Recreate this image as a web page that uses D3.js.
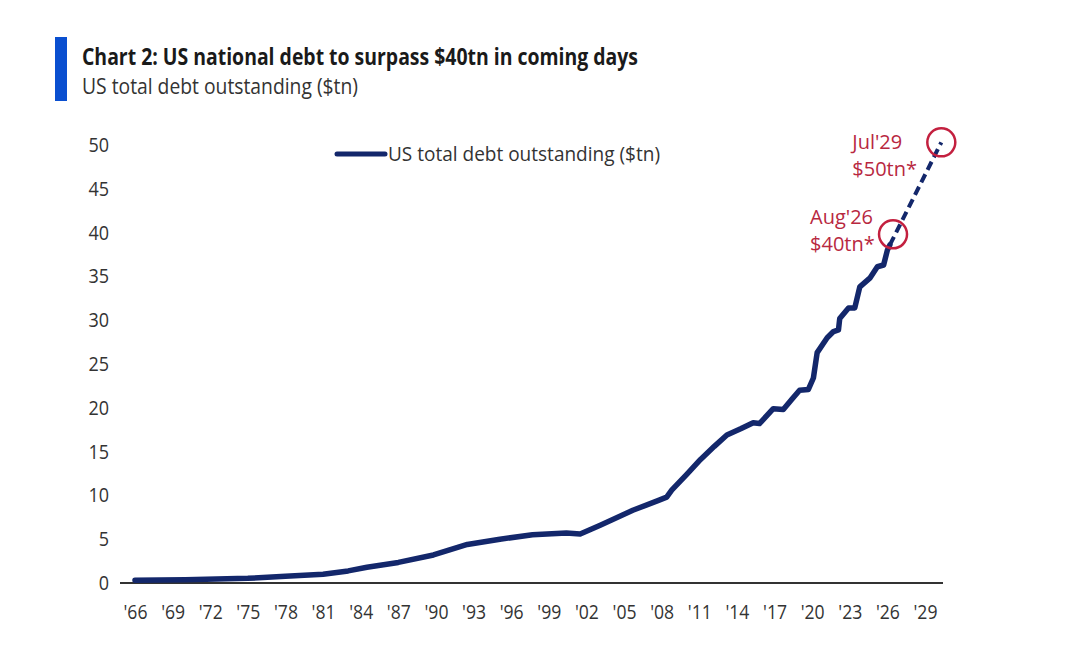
<!DOCTYPE html>
<html>
<head>
<meta charset="utf-8">
<script src="https://cdn.jsdelivr.net/npm/d3@7"></script>
<style>
  body { margin: 0; background: #fff; }
  text { font-family: "Open Sans", sans-serif; }
</style>
</head>
<body>
<div id="chart"></div>
<script>
const width = 1077;
const height = 651;
const margin = {top: 145, right: 134, bottom: 68, left: 135};

// debt outstanding, $tn (decimal years)
const years = [1966, 1970, 1975, 1978, 1981, 1983, 1984.5, 1987, 1989.8, 1992.5, 1995.1, 1997.7,
  2000.4, 2001.5, 2003.1, 2005.7, 2007.7, 2008.4, 2008.8, 2010.0, 2011.1, 2012.2, 2013.2,
  2014.3, 2015.3, 2015.8, 2016.9, 2017.7, 2018.4, 2019.0, 2019.7, 2020.1, 2020.4, 2021.2,
  2021.7, 2022.1, 2022.2, 2022.9, 2023.4, 2023.8, 2024.6, 2025.2, 2025.7, 2026.0, 2026.2];
const debt = [0.32, 0.37, 0.53, 0.77, 1.0, 1.38, 1.8, 2.35, 3.2, 4.4, 5.0, 5.5,
  5.7, 5.6, 6.6, 8.3, 9.4, 9.8, 10.6, 12.4, 14.1, 15.6, 16.9,
  17.6, 18.3, 18.2, 19.9, 19.8, 21.0, 22.0, 22.1, 23.4, 26.3, 28.0,
  28.7, 28.9, 30.2, 31.4, 31.4, 33.8, 34.8, 36.1, 36.3, 38.0, 38.6];

// dashed projection
const projYears = [2026.2, 2030.3];
const projDebt = [38.6, 50.3];

// annotations
const noteYears = [2026.45, 2030.3];
const noteDebt = [39.8, 50.3];
const noteLines = [["Aug'26", "$40tn*"], ["Jul'29", "$50tn*"]];

const yTicks = [0, 5, 10, 15, 20, 25, 30, 35, 40, 45, 50];
const xTickYears = d3.range(1966, 2030, 3);
const xTickLabels = xTickYears.map(y => "'" + String(y % 100).padStart(2, "0"));

const series = years.map((y, i) => ({year: y, value: debt[i]}));
const proj = projYears.map((y, i) => ({year: y, value: projDebt[i]}));
const notes = noteYears.map((y, i) => ({year: y, value: noteDebt[i], lines: noteLines[i]}));

const x = d3.scaleLinear()
  .domain([1966, 2029])
  .range([margin.left, width - margin.right - 18]);

const y = d3.scaleLinear()
  .domain([0, 50])
  .range([height - margin.bottom, margin.top]);

const svg = d3.select("#chart").append("svg")
  .attr("width", width)
  .attr("height", height);

// header
svg.append("rect")
  .attr("x", 55).attr("y", 37)
  .attr("width", 12).attr("height", 64)
  .attr("fill", "#0a4fd0");

svg.append("text")
  .attr("x", 82).attr("y", 65)
  .attr("font-size", 23)
  .attr("font-weight", "bold")
  .attr("fill", "#1a1a1a")
  .attr("textLength", 556)
  .attr("lengthAdjust", "spacingAndGlyphs")
  .text("Chart 2: US national debt to surpass $40tn in coming days");

svg.append("text")
  .attr("x", 82).attr("y", 94)
  .attr("font-size", 21)
  .attr("fill", "#333")
  .attr("textLength", 276)
  .attr("lengthAdjust", "spacingAndGlyphs")
  .text("US total debt outstanding ($tn)");

// y axis labels
const yAxis = g => g
  .attr("transform", `translate(${margin.left - 26},0)`)
  .call(d3.axisLeft(y).tickValues(yTicks).tickSize(0).tickPadding(0))
  .call(g => g.select(".domain").remove())
  .call(g => g.selectAll("text")
    .attr("font-size", 20)
    .attr("fill", "#333")
    .attr("transform", "scale(0.9,1)")
    .style("font-family", null));

svg.append("g").call(yAxis);

// x axis
const xAxis = g => g
  .attr("transform", `translate(0,${height - margin.bottom})`)
  .call(d3.axisBottom(x).tickValues(xTickYears).tickFormat((d, i) => xTickLabels[i])
    .tickSize(0).tickPadding(22))
  .call(g => g.select(".domain").remove())
  .call(g => g.selectAll("text")
    .attr("font-size", 20)
    .attr("fill", "#333")
    .attr("transform", "scale(0.88,1)")
    .style("font-family", null));

svg.append("g").call(xAxis);

svg.append("line")
  .attr("x1", margin.left - 15).attr("x2", width - margin.right)
  .attr("y1", y(0)).attr("y2", y(0))
  .attr("stroke", "#333")
  .attr("stroke-width", 2);

// lines
const line = d3.line()
  .x(d => x(d.year))
  .y(d => y(d.value));

svg.append("path")
  .datum(series)
  .attr("fill", "none")
  .attr("stroke", "#13276b")
  .attr("stroke-width", 5.5)
  .attr("stroke-linejoin", "round")
  .attr("stroke-linecap", "round")
  .attr("d", line);

svg.append("path")
  .datum(proj)
  .attr("fill", "none")
  .attr("stroke", "#13276b")
  .attr("stroke-width", 4)
  .attr("stroke-dasharray", "9,5")
  .attr("d", line);

// circles + labels
const noteDx = [-83, -89];
const noteDy = [-10, 7];

const note = svg.selectAll(".note")
  .data(notes)
  .join("g")
  .attr("class", "note");

note.append("circle")
  .attr("cx", d => x(d.year))
  .attr("cy", d => y(d.value))
  .attr("r", 14)
  .attr("fill", "none")
  .attr("stroke", "#c3203f")
  .attr("stroke-width", 2.5);

note.append("text")
  .attr("x", (d, i) => x(d.year) + noteDx[i])
  .attr("y", (d, i) => y(d.value) + noteDy[i])
  .attr("font-size", 20)
  .attr("fill", "#b8283f")
  .selectAll("tspan")
  .data(d => d.lines)
  .join("tspan")
  .attr("x", function() { return this.parentNode.getAttribute("x"); })
  .attr("dy", (d, i) => i === 0 ? 0 : 27)
  .text(d => d);

// legend
const legend = svg.append("g").attr("transform", "translate(337,154)");
legend.append("line")
  .attr("x1", 0).attr("x2", 48)
  .attr("stroke", "#13276b")
  .attr("stroke-width", 5)
  .attr("stroke-linecap", "round");
legend.append("text")
  .attr("x", 51).attr("y", 7)
  .attr("font-size", 20)
  .attr("fill", "#333")
  .attr("textLength", 272)
  .attr("lengthAdjust", "spacingAndGlyphs")
  .text("US total debt outstanding ($tn)");
</script>
</body>
</html>
